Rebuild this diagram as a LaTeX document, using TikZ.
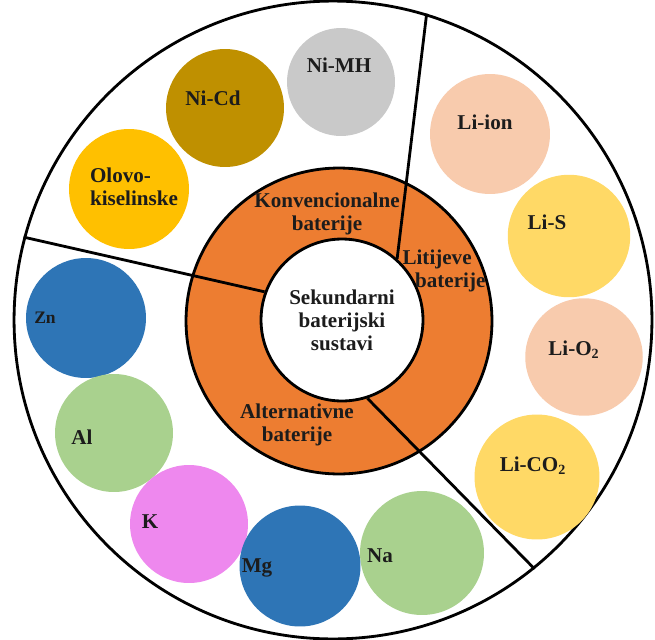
\documentclass[tikz,border=0pt]{standalone}
\usepackage{fontspec}
\setmainfont{Liberation Serif}
\definecolor{ringorange}{HTML}{ED7D31}
\definecolor{gold}{HTML}{FFC000}
\definecolor{olive}{HTML}{BF9000}
\definecolor{silver}{HTML}{C9C9C9}
\definecolor{peach}{HTML}{F8CBAD}
\definecolor{sand}{HTML}{FFD966}
\definecolor{steel}{HTML}{2E75B6}
\definecolor{leaf}{HTML}{A9D18E}
\definecolor{orchid}{HTML}{EE88EE}
\definecolor{ink}{HTML}{1C1C1C}
\begin{document}
\begin{tikzpicture}[x = 0.02cm, y = -0.02cm, line width = 1.6pt,
                    font = \bfseries\fontsize{12}{13}\selectfont, text = ink,
                    disc/.style = {circle, inner sep = 0pt, minimum size = #1},
                    ringdisc/.style = {circle, draw, inner sep = 0pt, minimum size = #1}]

\useasboundingbox (0,0) rectangle (655,639);

% rings
\node [ringdisc = 12.76cm, fill = white] (outer) at (333,320) {};
\node [ringdisc = 6.12cm, fill = ringorange] (ring) at (339,321) {};
\node [ringdisc = 3.24cm, fill = white] (inner) at (342,320) {};

% sector borders
\draw (inner.48) -- (outer.73);
\draw (inner.160) -- (outer.165);
\draw (inner.-72) -- (outer.-51);

\node [align = center] (centre) at (342,320) {Sekundarni\\baterijski\\sustavi};
\node [align = center] (konv) at (327,214) {Konvencionalne\\baterije};
\node [align = left] (liti) at (444,271) {Litijeve\\\hspace*{0.6em}baterije};
\node [align = center] (alt) at (297,425) {Alternativne\\baterije};

% conventional
\node [disc = 2.16cm, fill = silver] (nimh) at (341,82) {};
\node [disc = 2.36cm, fill = olive] (nicd) at (225,108) {};
\node [disc = 2.4cm, fill = gold] (olovo) at (129,189) {};
\node at (339,65) (tnimh) {Ni-MH};
\node at (213,98) (tnicd) {Ni-Cd};
\node [align = left] at (134,187) (tolovo) {Olovo-\\kiselinske};

% lithium
\node [disc = 2.4cm, fill = peach] (liion) at (490,134) {};
\node [disc = 2.45cm, fill = sand] (lis) at (569,236) {};
\node [disc = 2.35cm, fill = peach] (lio) at (584,357) {};
\node [disc = 2.5cm, fill = sand] (lico) at (537,477) {};
\node at (485,122) (tliion) {Li-ion};
\node at (547,222) (tlis) {Li-S};
\node at (574,350) (tlio) {Li-O\textsubscript{2}};
\node at (533,466) (tlico) {Li-CO\textsubscript{2}};

% alternative
\node [disc = 2.4cm, fill = steel] (zn) at (86,318) {};
\node [disc = 2.36cm, fill = leaf] (al) at (114,433) {};
\node [disc = 2.36cm, fill = orchid] (k) at (189,524) {};
\node [disc = 2.48cm, fill = leaf] (na) at (422,553) {};
\node [disc = 2.42cm, fill = steel] (mg) at (300,566) {};
\node [font = \bfseries\fontsize{10}{12}\selectfont] at (45,318) (tzn) {Zn};
\node at (82,437) (tal) {Al};
\node at (150,522) (tk) {K};
\node at (257,568) (tmg) {Mg};
\node at (380,556) (tna) {Na};

\end{tikzpicture}
\end{document}
